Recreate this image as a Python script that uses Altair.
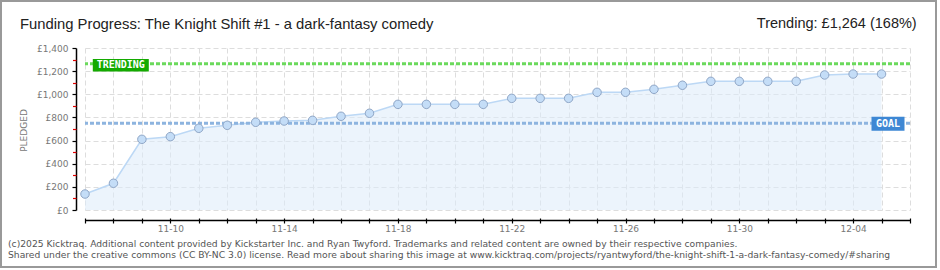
import altair as alt
import pandas as pd

# ---------------- data ----------------
dates = ["11-07", "11-08", "11-09", "11-10", "11-11", "11-12", "11-13", "11-14",
         "11-15", "11-16", "11-17", "11-18", "11-19", "11-20", "11-21", "11-22",
         "11-23", "11-24", "11-25", "11-26", "11-27", "11-28", "11-29", "11-30",
         "12-01", "12-02", "12-03", "12-04", "12-05"]
pledged = [138, 231, 611, 634, 706, 732, 758, 769, 775, 810, 836, 913, 913, 913,
           913, 965, 965, 965, 1017, 1017, 1043, 1078, 1112, 1112, 1112, 1112,
           1167, 1175, 1175]
goal = 750
trending = 1264
x_tick_days = list(range(30))
x_label_days = [3, 7, 11, 15, 19, 23, 27]
x_label_texts = ["11-10", "11-14", "11-18", "11-22", "11-26", "11-30", "12-04"]
y_major = [0, 200, 400, 600, 800, 1000, 1200, 1400]
y_minor = [100, 300, 500, 700, 900, 1100, 1300]
title_text = "Funding Progress: The Knight Shift #1 - a dark-fantasy comedy"
trend_text = "Trending:  £1,264 (168%)"
footer_lines = [
    "(c)2025 Kicktraq. Additional content provided by Kickstarter Inc. and Ryan Twyford. Trademarks and related content are owned by their respective companies.",
    "Shared under the creative commons (CC BY-NC 3.0) license. Read more about sharing this image at www.kicktraq.com/projects/ryantwyford/the-knight-shift-1-a-dark-fantasy-comedy/#sharing",
]

df = pd.DataFrame({"day": list(range(len(dates))), "date": dates, "pledged": pledged})

W, H = 825, 162
xs = alt.Scale(domain=[0, 29], nice=False, zero=False)
ys = alt.Scale(domain=[0, 1400], nice=False)

label_expr = " : ".join(f"datum.value == {d} ? '{t}'" for d, t in zip(x_label_days, x_label_texts)) + " : ''"

x_axis_main = alt.Axis(values=x_tick_days, labelExpr=label_expr, domain=False,
                       ticks=True, tickColor="#000", tickSize=5, tickWidth=1.2,
                       offset=8, labelPadding=1, labelFont="DejaVu Sans",
                       labelFontSize=9, labelColor="#777", labelFlush=False,
                       grid=True, gridColor="#DDDDDD", gridDash=[5, 3], gridWidth=1,
                       title=None, orient="bottom")
x_axis_line = alt.Axis(values=x_tick_days, domain=True, domainColor="#000",
                       domainWidth=1.5, ticks=False, labels=False, grid=False,
                       offset=10, title=None, orient="bottom")

y_axis_main = alt.Axis(values=y_major, domain=True, domainColor="#000", domainWidth=1.5,
                       ticks=True, tickColor="#000", tickSize=4, tickWidth=1.2,
                       offset=9, labelPadding=4, labelFont="DejaVu Sans",
                       labelFontSize=9, labelColor="#777",
                       labelExpr="'£' + format(datum.value, ',')",
                       grid=True, gridColor="#DDDDDD", gridDash=[5, 3], gridWidth=1,
                       title="PLEDGED", titleFont="DejaVu Sans", titleFontSize=9,
                       titleFontWeight="normal", titleColor="#777",
                       titleX=-53, titleY=82, titleAngle=-90, titleAlign="center",
                       titleBaseline="middle", orient="left")
y_axis_minor = alt.Axis(values=y_minor, domain=False, ticks=True, tickColor="#E00000",
                        tickSize=3.5, tickWidth=1.2, labels=False, grid=False,
                        offset=9, title=None, orient="left")

base = alt.Chart(df)

area = base.mark_area(color="#DDEBFA", opacity=0.55).encode(
    x=alt.X("day:Q", scale=xs, axis=x_axis_main),
    y=alt.Y("pledged:Q", scale=ys, axis=y_axis_main),
)
line = base.mark_line(color="#BCD8F5", strokeWidth=1.5).encode(
    x=alt.X("day:Q", scale=xs, axis=x_axis_line),
    y=alt.Y("pledged:Q", scale=ys, axis=y_axis_minor),
)
points = base.mark_circle(size=72, color="#C4DDF7", stroke="#8FA6C6",
                          strokeWidth=1, opacity=1).encode(
    x=alt.X("day:Q", scale=xs, axis=None),
    y=alt.Y("pledged:Q", scale=ys, axis=None),
    tooltip=["date:N", "pledged:Q"],
)

goal_df = pd.DataFrame({"v": [goal], "label": ["GOAL"]})
trend_df = pd.DataFrame({"v": [trending], "label": ["TRENDING"]})

goal_rule = alt.Chart(goal_df).mark_rule(color="#8DB4DF", strokeWidth=3,
                                         strokeDash=[4, 2]).encode(
    y=alt.Y("v:Q", scale=ys, axis=None))
trend_rule = alt.Chart(trend_df).mark_rule(color="#6BD95C", strokeWidth=3,
                                           strokeDash=[4, 2]).encode(
    y=alt.Y("v:Q", scale=ys, axis=None))

trend_box = alt.Chart(trend_df).mark_point(
    shape="M-1,-0.223H1V0.223H-1Z", filled=True, size=3136,
    color="#14AA00", opacity=1).encode(
    x=alt.value(35.8), y=alt.Y("v:Q", scale=ys, axis=None), yOffset=alt.value(1.5))
trend_lbl = alt.Chart(trend_df).mark_text(
    font="DejaVu Sans Mono", fontSize=10, fontWeight="bold", color="white",
    align="center", baseline="middle").encode(
    x=alt.value(35.8), y=alt.Y("v:Q", scale=ys, axis=None), yOffset=alt.value(1.5),
    text="label:N")

goal_box = alt.Chart(goal_df).mark_point(
    shape="M-1,-0.42H1V0.42H-1Z", filled=True, size=1089,
    color="#3D87D4", opacity=1).encode(
    x=alt.value(803), y=alt.Y("v:Q", scale=ys, axis=None), yOffset=alt.value(0.5))
goal_lbl = alt.Chart(goal_df).mark_text(
    font="DejaVu Sans Mono", fontSize=10, fontWeight="bold", color="white",
    align="center", baseline="middle").encode(
    x=alt.value(803), y=alt.Y("v:Q", scale=ys, axis=None), yOffset=alt.value(0.5),
    text="label:N")

title_mark = alt.Chart(pd.DataFrame({"t": [title_text]})).mark_text(
    font="Liberation Sans", fontSize=14.8, color="#222", align="left",
    baseline="alphabetic").encode(x=alt.value(-65), y=alt.value(-18.7), text="t:N")
trend_mark = alt.Chart(pd.DataFrame({"t": [trend_text]})).mark_text(
    font="Liberation Sans", fontSize=14.5, color="#222", align="right",
    baseline="alphabetic").encode(x=alt.value(831.7), y=alt.value(-19.7), text="t:N")

footer1 = alt.Chart(pd.DataFrame({"t": [footer_lines[0]]})).mark_text(
    font="DejaVu Sans", fontSize=9.2, color="#555", align="left",
    baseline="alphabetic").encode(x=alt.value(-77), y=alt.value(199), text="t:N")
footer2 = alt.Chart(pd.DataFrame({"t": [footer_lines[1]]})).mark_text(
    font="DejaVu Sans", fontSize=9.2, color="#555", align="left",
    baseline="alphabetic").encode(x=alt.value(-77), y=alt.value(209.5), text="t:N")

frame = alt.Chart(pd.DataFrame({"a": [0]})).mark_rect(
    fill="transparent", stroke="#999", strokeWidth=2).encode(
    x=alt.value(-84), x2=alt.value(851), y=alt.value(-47), y2=alt.value(219))

chart = alt.layer(
    area, line, goal_rule, trend_rule, points, trend_box, trend_lbl, goal_box,
    goal_lbl, title_mark, trend_mark, footer1, footer2, frame
).resolve_axis(x="independent", y="independent").properties(
    width=W, height=H,
    autosize=alt.AutoSizeParams(type="none"),
    padding={"left": 85, "top": 48, "right": 30, "bottom": 60},
    background="white",
).configure_view(stroke=None)

chart.save("out.html", embed_options={"renderer": "svg", "actions": False})
